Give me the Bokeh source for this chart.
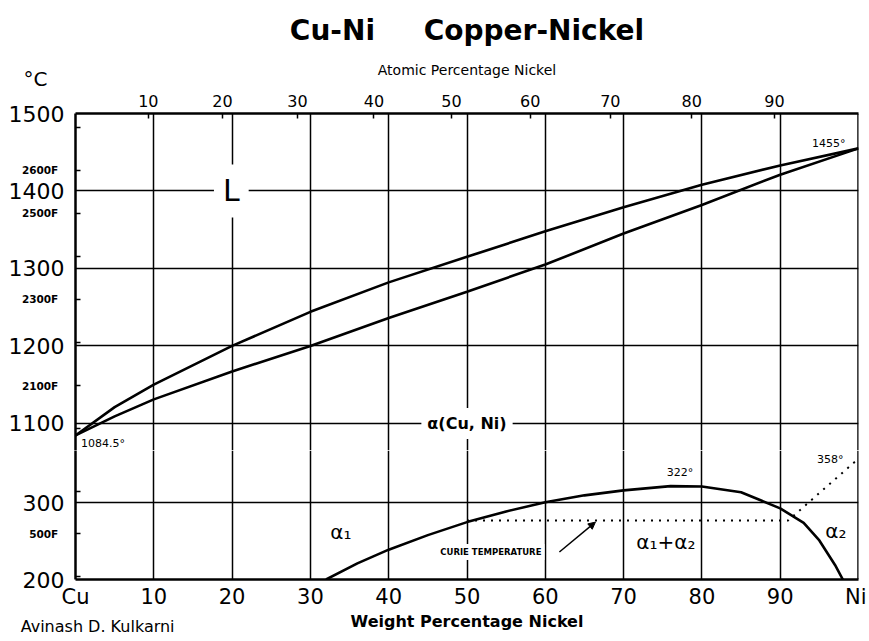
from bokeh.plotting import figure
from bokeh.models import Range1d, FixedTicker, Span, Label, Arrow, NormalHead
from bokeh.core.properties import value
from bokeh.layouts import column
from bokeh.embed import file_html
from bokeh.resources import INLINE

# ---------------- data ----------------
wt_pct = [0, 5, 10, 20, 30, 40, 50, 60, 70, 80, 90, 100]
liquidus_C = [1084.5, 1121, 1150, 1200, 1244, 1282, 1315, 1348, 1379, 1408, 1433, 1455]
solidus_C = [1084.5, 1109, 1131, 1167, 1200, 1236, 1270, 1305, 1345, 1382, 1421, 1455]

gap_wt = [32, 36, 40, 45, 50, 55, 60, 65, 70, 76, 80, 85, 87.5, 90, 93, 95, 97, 98]
gap_C = [200, 221, 239, 258, 275, 289, 301, 310, 316.5, 322, 321.5, 314, 303.5, 293, 274, 251, 219, 200]

curie_wt = [50, 91, 100]
curie_C = [277, 277, 358]

wt_ticks = [0, 10, 20, 30, 40, 50, 60, 70, 80, 90, 100]
wt_tick_names = {0: "Cu", 100: "Ni"}
grid_wt = [10, 20, 30, 40, 50, 60, 70, 80, 90]
at_ticks = [10, 20, 30, 40, 50, 60, 70, 80, 90]
upper_C_ticks = [1100, 1200, 1300, 1400, 1500]
upper_C_grid = [1100, 1200, 1300, 1400]
lower_C_ticks = [200, 300]
lower_C_grid = [300]
upper_F_ticks = [2000, 2100, 2200, 2300, 2400, 2500, 2600, 2700]
upper_F_labelled = [2600, 2500, 2300, 2100]
lower_F_ticks = [400, 500, 600]
lower_F_labelled = [500]
M_CU, M_NI = 63.546, 58.693

FONT = "DejaVu Sans"


def f_to_c(f):
    return (f - 32) * 5.0 / 9.0


def at_to_wt(a):
    return round(100.0 * a * M_NI / (a * M_NI + (100 - a) * M_CU), 4)


at_pos = [at_to_wt(a) for a in at_ticks]

x_range = Range1d(0, 100)


def style_left_axis(axis, ticks, minor):
    axis.ticker = FixedTicker(ticks=ticks, minor_ticks=minor)
    axis.major_label_text_font = FONT
    axis.major_label_text_font_size = "22px"
    axis.major_label_text_color = "black"
    axis.major_label_standoff = 11
    axis.major_tick_in = 0
    axis.major_tick_out = 0
    axis.minor_tick_in = 5
    axis.minor_tick_out = 0
    axis.minor_tick_line_width = 1.5
    axis.minor_tick_line_color = "black"
    axis.axis_line_width = 2.5
    axis.axis_line_color = "black"


def style_grids(p, yticks):
    p.xgrid.ticker = FixedTicker(ticks=grid_wt)
    p.ygrid.ticker = FixedTicker(ticks=yticks)
    for g in (p.xgrid, p.ygrid):
        g.grid_line_color = "black"
        g.grid_line_width = 1.5
    p.add_layout(Span(location=100, dimension="height", line_color="black", line_width=2.5))


def f_labels(p, flist):
    p.text(x=[-2.2] * len(flist), y=[f_to_c(f) for f in flist], text=[f"{f}F" for f in flist],
           text_align="right", text_baseline="middle", text_font=value(FONT),
           text_font_size="10.5px", text_font_style="bold", text_color="black", level="overlay")


def label(p, x, y, text, size, align="center", bold=False, bg=None, pad=0):
    p.add_layout(Label(x=x, y=y, text=text, text_align=align, text_baseline="middle",
                       text_font=FONT, text_font_size=size, text_color="black",
                       text_font_style="bold" if bold else "normal",
                       background_fill_color=bg, padding=pad))


# ---------------- upper panel ----------------
p1 = figure(width=866, height=450, x_range=x_range, y_range=Range1d(1065, 1500),
            x_axis_location="above", output_backend="svg", toolbar_location=None,
            min_border_left=75, min_border_right=8, min_border_top=112, min_border_bottom=0,
            outline_line_color=None)
p1.title.text = "Cu-Ni\u00a0\u00a0\u00a0\u00a0\u00a0Copper-Nickel"
p1.title.align = "center"
p1.title.text_font = FONT
p1.title.text_font_size = "28px"
p1.title.text_font_style = "bold"
p1.title.text_color = "black"
p1.title.standoff = 23

ax = p1.xaxis[0]
ax.ticker = FixedTicker(ticks=at_pos)
ax.major_label_overrides = {pos: str(a) for pos, a in zip(at_pos, at_ticks)}
ax.axis_label = "Atomic Percentage Nickel"
ax.axis_label_text_font = FONT
ax.axis_label_text_font_size = "14px"
ax.axis_label_text_font_style = "normal"
ax.axis_label_text_color = "black"
ax.axis_label_standoff = 14
ax.major_label_text_font = FONT
ax.major_label_text_font_size = "16px"
ax.major_label_text_color = "black"
ax.major_label_standoff = 7
ax.major_tick_in = 5
ax.major_tick_out = 0
ax.major_tick_line_color = "black"
ax.minor_tick_line_color = None
ax.axis_line_width = 2.5
ax.axis_line_color = "black"
ax.major_tick_line_width = 1.5

style_left_axis(p1.yaxis[0], upper_C_ticks, [f_to_c(f) for f in upper_F_ticks])
style_grids(p1, upper_C_grid)

p1.line(wt_pct, liquidus_C, line_color="black", line_width=2.6)
p1.line(wt_pct, solidus_C, line_color="black", line_width=2.6)

f_labels(p1, upper_F_labelled)
p1.text(x=[-5.1], y=[1544], text=["°C"], text_align="center", text_baseline="middle",
        text_font=value(FONT), text_font_size="20px", text_color="black", level="overlay")
label(p1, 19.9, 1400, "L", "30px", bg="white", pad=9)
label(p1, 50, 1100, "α(Cu, Ni)", "16px", bold=True, bg="white", pad=6)
label(p1, 0.7, 1074, "1084.5°", "11px", align="left")
label(p1, 96.2, 1461, "1455°", "11px")

# ---------------- lower panel ----------------
p2 = figure(width=866, height=190, x_range=x_range, y_range=Range1d(200, 368.6),
            output_backend="svg", toolbar_location=None,
            min_border_left=75, min_border_right=8, min_border_top=0, min_border_bottom=61,
            outline_line_color=None)
bx = p2.xaxis[0]
bx.ticker = FixedTicker(ticks=wt_ticks)
bx.major_label_overrides = wt_tick_names
bx.major_label_text_font = FONT
bx.major_label_text_font_size = "21px"
bx.major_label_text_color = "black"
bx.major_label_standoff = 5
bx.major_tick_in = 0
bx.major_tick_out = 0
bx.minor_tick_line_color = None
bx.axis_line_width = 2.5
bx.axis_line_color = "black"
bx.axis_label = "Weight Percentage Nickel"
bx.axis_label_text_font = FONT
bx.axis_label_text_font_size = "16px"
bx.axis_label_text_font_style = "bold"
bx.axis_label_text_color = "black"
bx.axis_label_standoff = 0

style_left_axis(p2.yaxis[0], lower_C_ticks, [f_to_c(f) for f in lower_F_ticks])
style_grids(p2, lower_C_grid)

p2.line(gap_wt, gap_C, line_color="black", line_width=2.6)
p2.line(curie_wt, curie_C, line_color="black", line_width=2, line_dash="2 6")

f_labels(p2, lower_F_labelled)
label(p2, 33.9, 262, "α₁", "20px")
label(p2, 75.4, 249, "α₁+α₂", "20px")
label(p2, 97.1, 263, "α₂", "20px")
label(p2, 77.2, 340, "322°", "11px")
label(p2, 96.4, 357, "358°", "11px")
label(p2, 46.2, 236, "CURIE TEMPERATURE", "8.5px", align="left", bold=True, bg="white", pad=3)
p2.add_layout(Arrow(end=NormalHead(size=7, fill_color="black", line_color="black"),
                    x_start=61.8, y_start=236, x_end=66.4, y_end=275,
                    line_color="black", line_width=1.5))
p2.text(x=[-7.0], y=[138], text=["Avinash D. Kulkarni"], text_align="left",
        text_baseline="middle", text_font=value(FONT), text_font_size="16px",
        text_color="black", level="overlay")

layout = column(p1, p2, spacing=0)
open("out.html", "w").write(file_html(layout, INLINE))
